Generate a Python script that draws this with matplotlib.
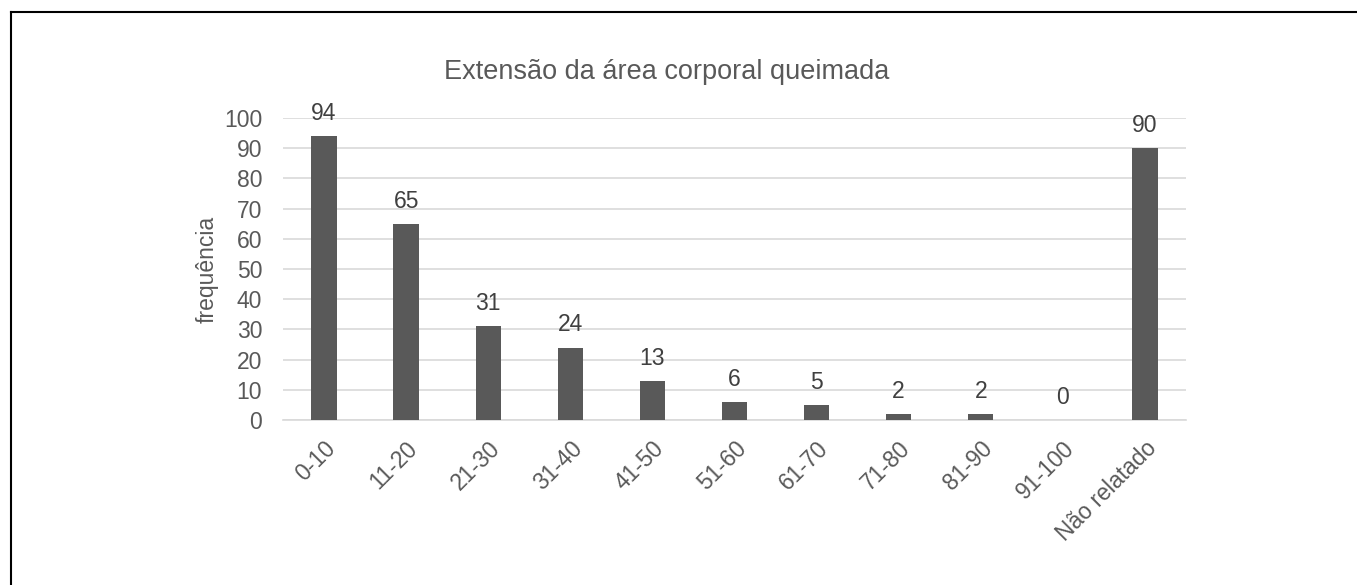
import matplotlib.pyplot as plt
from matplotlib.lines import Line2D

plt.rcParams['font.family'] = ['Liberation Sans', 'DejaVu Sans']

faixas = ["0-10", "11-20", "21-30", "31-40", "41-50", "51-60", "61-70",
          "71-80", "81-90", "91-100", "Não relatado"]
frequencia = [94, 65, 31, 24, 13, 6, 5, 2, 2, 0, 90]

cinza = "#595959"

fig = plt.figure(figsize=(13.57, 5.85), dpi=100)
ax = fig.add_axes([283 / 1357, 1 - 420 / 585, (1186 - 283) / 1357, (420 - 118) / 585])

x = range(len(faixas))
barras = ax.bar(x, frequencia, width=0.31, color=cinza, zorder=3)
ax.bar_label(barras, padding=8, fontsize=16.5, color="#404040")

ax.set_xlim(-0.5, len(faixas) - 0.5)
ax.set_ylim(0, 100)
ax.set_yticks(range(0, 101, 10))
ax.yaxis.grid(True, color="#d9d9d9", linewidth=1.2, zorder=0)
ax.set_xticks(list(x))
ax.set_xticklabels(faixas, rotation=45, ha="right", va="top", rotation_mode="anchor")
ax.tick_params(length=0, labelsize=16.5, labelcolor=cinza)
ax.tick_params(axis="x", pad=12)
ax.tick_params(axis="y", pad=15)
for lado in ["top", "right", "left"]:
    ax.spines[lado].set_visible(False)
ax.spines["bottom"].set_color("#d9d9d9")
ax.spines["bottom"].set_linewidth(1.2)

ax.set_ylabel("frequência", fontsize=16.5, color=cinza, labelpad=4)
fig.text(667 / 1357, 1 - 72 / 585, "Extensão da área corporal queimada",
         fontsize=19.5, color=cinza, ha="center", va="center")

# moldura
fig.add_artist(Line2D([10.5 / 1357, 10.5 / 1357], [0, 1 - 12 / 585],
                      transform=fig.transFigure, color="black", linewidth=1.5))
fig.add_artist(Line2D([10.5 / 1357, 1], [1 - 12 / 585, 1 - 12 / 585],
                      transform=fig.transFigure, color="black", linewidth=1.5))

fig.savefig("out.png", dpi=100)
